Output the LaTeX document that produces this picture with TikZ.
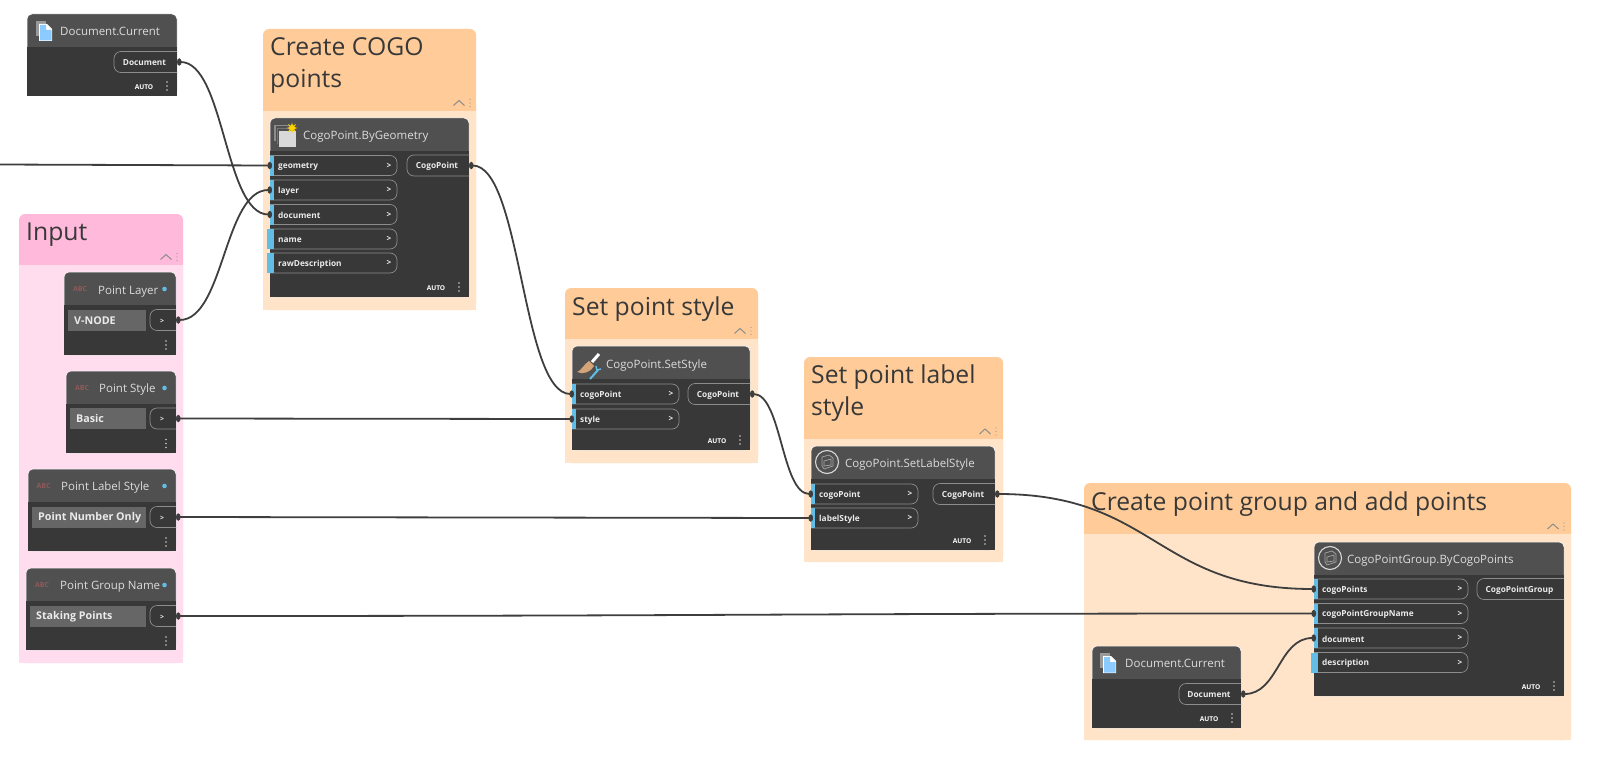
\documentclass[tikz,border=0pt]{standalone}
\usepackage{fontspec}
\setmainfont{Open Sans}
\usetikzlibrary{arrows.meta,positioning,shapes.geometric,calc}
\definecolor{grpOrange}{HTML}{FFCC99}
\definecolor{grpOrangeLt}{HTML}{FFE4C9}
\definecolor{grpPink}{HTML}{FFB9DB}
\definecolor{grpPinkLt}{HTML}{FFDCEE}
\definecolor{dynBody}{HTML}{383838}
\definecolor{dynHead}{HTML}{505050}
\definecolor{dynText}{HTML}{DCDCDC}
\definecolor{dynBlue}{HTML}{62BDE6}
\definecolor{wireCol}{HTML}{3E3E3E}
\definecolor{abcCol}{HTML}{8F5A5A}
\definecolor{brushCol}{HTML}{D3A478}
\tikzset{
    grouptitle/.style={anchor=west,align=left,inner sep=0pt,text=black!78,font=\fontsize{24.7}{32}\selectfont},
    nodetitle/.style={anchor=west,inner sep=0pt,text=dynText,font=\fontsize{11.5}{13}\selectfont},
    porttext/.style={inner sep=0pt,text=white!92!black,font=\fontsize{8.3}{10}\selectfont\bfseries},
    strtext/.style={anchor=west,inner sep=0pt,text=white!92!black,font=\fontsize{10.7}{12}\selectfont\bfseries},
    autotext/.style={inner sep=0pt,text=white,font=\fontsize{6.6}{8}\selectfont\bfseries},
    abctext/.style={inner sep=0pt,text=abcCol,font=\fontsize{7}{8}\selectfont\bfseries},
    pill/.style={draw=white!55!black,line width=0.7pt,rounded corners=7pt},
    wire/.style={draw=wireCol,line width=1.8pt,{Circle[length=4.5pt,width=7pt]}-{Circle[length=4.5pt,width=7pt]},
        to path={let \p1=(\tikztostart),\p2=(\tikztotarget) in
            .. controls (\x1*0.5+\x2*0.5,\y1) and (\x1*0.5+\x2*0.5,\y2) .. (\tikztotarget)}},
}
% group: name, x, y, w, h, head h, head colour, body colour
\newcommand{\grpbox}[8]{
    \node[anchor=north west,inner sep=0pt,outer sep=0pt,fill=#7,rounded corners=6pt,
        minimum width=#4pt,minimum height=#5pt] (#1) at (#2,#3) {};
    \node[anchor=south west,inner sep=0pt,outer sep=0pt,fill=#8,
        minimum width=#4pt,minimum height=#5pt-#6pt] at (#1.south west) {};
}
% collapse chevron and grip of a group
\newcommand{\grpctl}[2]{
    \draw[black!45,line width=1pt] (#1-5.5,#2+2.5) -- (#1,#2-2.5) -- (#1+5.5,#2+2.5);
    \fill[black!40] (#1+11,#2-3.5) circle (0.7) (#1+11,#2) circle (0.7) (#1+11,#2+3.5) circle (0.7);
}
% dynamo node: name, x, y, w, h, head h
\newcommand{\dynbox}[6]{
    \node[anchor=north west,inner sep=0pt,outer sep=0pt,fill=dynHead,draw=white,line width=0.5pt,rounded corners=5pt,
        minimum width=#4pt,minimum height=#5pt] (#1) at (#2,#3) {};
    \node[anchor=south west,inner sep=0pt,outer sep=0pt,fill=dynBody,
        minimum width=#4pt,minimum height=#5pt-#6pt] at (#1.south west) {};
}
\newcommand{\threedots}[2]{
    \fill[white!80!black] (#1,#2-4) circle (0.9) (#1,#2) circle (0.9) (#1,#2+4) circle (0.9);
}
\newcommand{\autofoot}[2]{
    \node[autotext] at (#1,#2+1) {AUTO};
    \threedots{#1+23}{#2}
}
% input port: name, x, y, w, label, bar overhang
\newcommand{\inport}[6]{
    \draw[pill] (#2,#3-10) -- (#2+#4,#3-10) -- (#2+#4,#3+10) -- (#2,#3+10);
    \fill[dynBlue] (#2-#6,#3-10) rectangle (#2+4,#3+10);
    \node[porttext,anchor=west] (#1) at (#2+8,#3+1) {#5};
    \node[porttext] at (#2+#4-8,#3) {>};
    \coordinate (#1p) at (#2+2,#3);
}
% output port: name, x1, x2, y, label
\newcommand{\outport}[5]{
    \draw[pill] (#3,#4-10.5) -- (#2,#4-10.5) -- (#2,#4+10.5) -- (#3,#4+10.5);
    \node[porttext] (#1) at ({(#2+#3)/2-1},#4+1) {#5};
    \coordinate (#1p) at (#3,#4);
}
% string input body: name, box x, y
\newcommand{\strbox}[3]{
    \fill[black!60] (#2,#3-10.5) rectangle (146,#3+10.5);
    \outport{#1}{150}{176}{#3}{\scriptsize >}
    \threedots{166}{#3+25}
}
\newcommand{\docicon}[2]{
    \fill[black!40] (#1,#2) rectangle (#1+10,#2+15);
    \fill[white] (#1+3,#2+3) -- (#1+11,#2+3) -- (#1+16,#2+8) -- (#1+16,#2+20) -- (#1+3,#2+20) -- cycle;
    \fill[blue!45!cyan!45!white] (#1+4,#2+4) -- (#1+10,#2+4) -- (#1+10,#2+9) -- (#1+15.5,#2+9) -- (#1+15.5,#2+19.5) -- (#1+4,#2+19.5) -- cycle;
}
\newcommand{\cubeicon}[2]{
    \draw[white!85!black,line width=1.1pt] (#1,#2) circle (11.5);
    \draw[white!65!black,line width=0.7pt] (#1-5,#2-5) -- (#1+2,#2-7) -- (#1+6,#2-4) -- (#1+6,#2+4) -- (#1-3,#2+7) -- (#1-5,#2+4) -- cycle
        (#1-3,#2-1) -- (#1+4,#2-3) -- (#1+4,#2+3) -- (#1-3,#2+4) -- cycle;
}
\begin{document}
\begin{tikzpicture}[x=1pt,y=-1pt]
    \useasboundingbox (0,0) rectangle (1597,757);

    % Groups
    \grpbox{grpCogo}{263}{29}{213}{281}{82}{grpOrange}{grpOrangeLt}
    \grpbox{grpInput}{19}{214}{164}{449}{51}{grpPink}{grpPinkLt}
    \grpbox{grpStyle}{565}{288}{193}{175}{51}{grpOrange}{grpOrangeLt}
    \grpbox{grpLabel}{804}{357}{199}{205}{82}{grpOrange}{grpOrangeLt}
    \grpbox{grpPoints}{1084}{483}{487}{257}{51}{grpOrange}{grpOrangeLt}
    \grpctl{459}{103}
    \grpctl{166}{257}
    \grpctl{740}{331}
    \grpctl{985}{431.5}
    \grpctl{1553}{526.5}
    \node[grouptitle] (ttlCogo) at (270,66) {Create COGO\\points};
    \node[grouptitle] (ttlInput) at (26,235) {Input};
    \node[grouptitle] (ttlStyle) at (572,309) {Set point style};
    \node[grouptitle] (ttlLabel) at (811,393) {Set point label\\style};
    \node[grouptitle] (ttlPoints) at (1091,504.5) {Create point group and add points};

    % Document.Current, top
    \dynbox{docTop}{27}{14}{150}{82}{33}
    \docicon{36}{21}
    \node[nodetitle] (docTopName) at (60,31) {Document.Current};
    \outport{docTopOut}{114}{177}{62}{Document}
    \autofoot{144}{86}

    % CogoPoint.ByGeometry
    \dynbox{byGeo}{270}{118}{199}{179}{33}
    \fill[black!45] (274,125) rectangle (290,141);
    \fill[dynHead] (275.5,126.5) rectangle (290,141);
    \fill[black!55] (276.5,128) rectangle (293,144);
    \fill[dynHead] (278,129.5) rectangle (293,144);
    \fill[black!15] (279,131) rectangle (296,147);
    \node[star,star points=8,star point ratio=2.2,fill=yellow!70!orange,inner sep=0pt,minimum size=11pt] (byGeoStar) at (292,128) {};
    \node[nodetitle] (byGeoName) at (303,137) {CogoPoint.ByGeometry};
    \inport{byGeoGeometry}{270}{165.5}{127}{geometry}{0}
    \inport{byGeoLayer}{270}{190}{127}{layer}{0}
    \inport{byGeoDocument}{270}{214.5}{127}{document}{0}
    \inport{byGeoName}{270}{239}{127}{name}{3}
    \inport{byGeoRaw}{270}{263}{127}{rawDescription}{3}
    \outport{byGeoOut}{407}{469}{165.5}{CogoPoint}
    \autofoot{436}{287}

    % Input strings
    \dynbox{ptLayer}{64}{272}{112}{83}{33}
    \node[abctext] (ptLayerAbc) at (80,288.5) {ABC};
    \node[nodetitle] (ptLayerName) at (98,292) {Point Layer};
    \fill[dynBlue] (164.5,289) circle (2.3);
    \strbox{ptLayerOut}{68}{320}
    \node[strtext] (ptLayerVal) at (74,320.5) {V-NODE};

    \dynbox{ptStyle}{66}{371}{110}{82}{33}
    \node[abctext] (ptStyleAbc) at (82,387.5) {ABC};
    \node[nodetitle] (ptStyleName) at (99,389.5) {Point Style};
    \fill[dynBlue] (164.5,388) circle (2.3);
    \strbox{ptStyleOut}{70}{418.5}
    \node[strtext] (ptStyleVal) at (76,418.5) {Basic};

    \dynbox{ptLabel}{28}{469}{148}{82}{33}
    \node[abctext] (ptLabelAbc) at (43.5,485.5) {ABC};
    \node[nodetitle] (ptLabelName) at (61,488) {Point Label Style};
    \fill[dynBlue] (164.5,486) circle (2.3);
    \strbox{ptLabelOut}{32}{517}
    \node[strtext] (ptLabelVal) at (38,518) {Point Number Only};

    \dynbox{ptGroup}{26}{568}{150}{82}{33}
    \node[abctext] (ptGroupAbc) at (42,584.5) {ABC};
    \node[nodetitle] (ptGroupName) at (60,587) {Point Group Name};
    \fill[dynBlue] (164.5,585) circle (2.3);
    \strbox{ptGroupOut}{30}{616}
    \node[strtext] (ptGroupVal) at (36,617) {Staking Points};

    % CogoPoint.SetStyle
    \dynbox{setStyle}{572}{346}{178}{104}{33}
    \fill[brushCol] (577,372) .. controls (581,371) and (584,364) .. (589,361) -- (594,366) .. controls (591,372) and (583,375) .. (577,372) -- cycle;
    \draw[white,line width=3pt] (592,362) -- (599,354);
    \draw[dynBlue,line width=2pt] (590,379) -- (598,370);
    \draw[dynBlue,line width=1.4pt] (596,366) -- (597,370) -- (601,369);
    \node[nodetitle] (setStyleName) at (606,366) {CogoPoint.SetStyle};
    \inport{setStyleCogo}{572}{394}{107}{cogoPoint}{0}
    \inport{setStyleStyle}{572}{419}{107}{style}{0}
    \outport{setStyleOut}{688}{750}{394}{CogoPoint}
    \autofoot{717}{440}

    % CogoPoint.SetLabelStyle
    \dynbox{setLabel}{811}{446}{184}{104}{33}
    \cubeicon{827}{462}
    \node[nodetitle] (setLabelName) at (845,465) {CogoPoint.SetLabelStyle};
    \inport{setLabelCogo}{811}{494}{107}{cogoPoint}{0}
    \inport{setLabelStyle}{811}{518}{107}{labelStyle}{0}
    \outport{setLabelOut}{933}{995}{494}{CogoPoint}
    \autofoot{962}{540}

    % CogoPointGroup.ByCogoPoints
    \dynbox{byPoints}{1314}{542}{250}{154}{33}
    \cubeicon{1330}{558}
    \node[nodetitle] (byPointsName) at (1347,561) {CogoPointGroup.ByCogoPoints};
    \inport{byPointsCogo}{1314}{589}{154}{cogoPoints}{0}
    \inport{byPointsName}{1314}{613.5}{154}{cogoPointGroupName}{0}
    \inport{byPointsDoc}{1314}{638}{154}{document}{0}
    \inport{byPointsDesc}{1314}{662.5}{154}{description}{3}
    \outport{byPointsOut}{1477}{1564}{589}{CogoPointGroup}
    \autofoot{1531}{686}

    % Document.Current, bottom
    \dynbox{docLow}{1092}{646}{149}{82}{33}
    \docicon{1100}{653}
    \node[nodetitle] (docLowName) at (1125,663) {Document.Current};
    \outport{docLowOut}{1179}{1241}{694}{Document}
    \autofoot{1209}{718}

    % Wires
    \coordinate (leftEdge) at (-6,164.5);
    \draw[wire] (docTopOutp) to (byGeoDocumentp);
    \draw[wire] (leftEdge) to (byGeoGeometryp);
    \draw[wire] (ptLayerOutp) to (byGeoLayerp);
    \draw[wire] (byGeoOutp) to (setStyleCogop);
    \draw[wire] (ptStyleOutp) to (setStyleStylep);
    \draw[wire] (ptLabelOutp) to (setLabelStylep);
    \draw[wire] (setStyleOutp) to (setLabelCogop);
    \draw[wire] (setLabelOutp) to (byPointsCogop);
    \draw[wire] (ptGroupOutp) to (byPointsNamep);
    \draw[wire] (docLowOutp) to (byPointsDocp);
\end{tikzpicture}
\end{document}
